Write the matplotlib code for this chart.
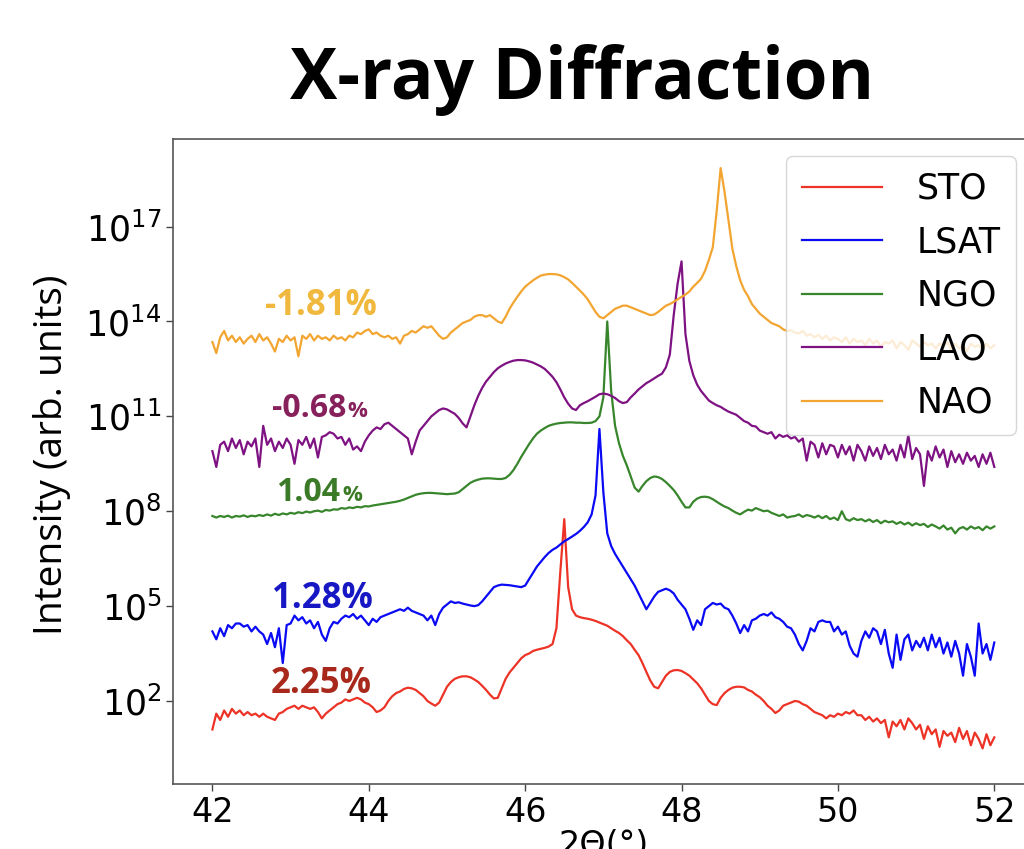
import numpy as np
import matplotlib
matplotlib.use("Agg")
import matplotlib.pyplot as plt
from matplotlib.ticker import NullLocator

# ---------------- data ----------------
two_theta = np.round(42 + 0.05 * np.arange(201), 2)   # 42.00 ... 52.00 deg

series_names = ["STO", "LSAT", "NGO", "LAO", "NAO"]

# log10(intensity), one value per 0.05 deg
sto_log = [
    1.1, 1.6, 1.4, 1.7, 1.5, 1.75, 1.6, 1.7, 1.55, 1.65, 1.55, 1.6, 1.5, 1.6, 1.5, 1.45, 1.4, 1.6, 1.65, 1.75,
    1.8, 1.85, 1.75, 1.85, 1.8, 1.75, 1.8, 1.65, 1.45, 1.6, 1.7, 1.8, 1.9, 1.95, 2.05, 2.0, 2.05, 2.1, 2.05, 1.95,
    1.9, 1.8, 1.65, 1.7, 1.8, 2.0, 2.15, 2.25, 2.3, 2.38, 2.42, 2.4, 2.35, 2.25, 2.15, 2.0, 1.92, 1.85, 1.95, 2.2,
    2.45, 2.6, 2.7, 2.75, 2.78, 2.78, 2.75, 2.68, 2.6, 2.48, 2.35, 2.2, 2.08, 2.1, 2.4, 2.7, 2.9, 3.05, 3.2, 3.35,
    3.45, 3.5, 3.58, 3.62, 3.65, 3.68, 3.72, 3.8, 4.3, 6.1, 7.75, 5.6, 4.9, 4.7, 4.65, 4.62, 4.6, 4.57, 4.53, 4.48,
    4.43, 4.38, 4.3, 4.22, 4.15, 4.05, 3.92, 3.8, 3.62, 3.45, 3.2, 2.92, 2.65, 2.45, 2.4, 2.6, 2.8, 2.92, 2.97, 2.98,
    2.95, 2.88, 2.8, 2.68, 2.56, 2.4, 2.2, 2.0, 1.9, 1.87, 2.1, 2.25, 2.35, 2.42, 2.45, 2.45, 2.43, 2.35, 2.3, 2.2,
    2.12, 2.0, 1.85, 1.75, 1.62, 1.7, 1.85, 1.9, 1.95, 2.0, 1.98, 1.9, 1.85, 1.75, 1.65, 1.6, 1.55, 1.45, 1.55, 1.5,
    1.6, 1.55, 1.65, 1.6, 1.7, 1.55, 1.55, 1.4, 1.5, 1.35, 1.45, 1.3, 1.4, 0.85, 1.35, 1.2, 1.4, 1.1, 1.45, 1.3,
    1.1, 1.25, 0.8, 1.2, 0.95, 1.1, 0.55, 1.05, 0.9, 1.0, 0.7, 1.15, 0.8, 1.05, 0.6, 1.0, 0.8, 0.5, 0.95, 0.6,
    0.85,
]

lsat_log = [
    4.2, 3.95, 4.3, 4.05, 4.4, 4.3, 4.45, 4.45, 4.35, 4.4, 4.2, 4.35, 4.2, 4.1, 3.8, 4.15, 3.7, 4.3, 3.2, 4.4,
    4.45, 4.7, 4.55, 4.65, 4.45, 4.55, 4.3, 4.5, 4.1, 3.9, 4.3, 4.5, 4.45, 4.6, 4.7, 4.65, 4.75, 4.6, 4.7, 4.55,
    4.4, 4.6, 4.5, 4.65, 4.7, 4.75, 4.8, 4.85, 4.9, 4.85, 4.95, 4.85, 4.8, 4.75, 4.7, 4.55, 4.7, 4.4, 4.75, 4.95,
    5.05, 5.15, 5.1, 5.12, 5.08, 5.05, 5.02, 5.0, 5.03, 5.15, 5.3, 5.45, 5.6, 5.65, 5.68, 5.67, 5.66, 5.64, 5.62, 5.6,
    5.65, 5.85, 6.05, 6.25, 6.4, 6.55, 6.68, 6.78, 6.85, 6.95, 7.05, 7.12, 7.2, 7.28, 7.38, 7.5, 7.65, 7.9, 8.5, 10.6,
    8.6, 7.3, 6.9, 6.65, 6.45, 6.25, 6.05, 5.85, 5.65, 5.4, 5.15, 4.9, 5.1, 5.3, 5.45, 5.5, 5.55, 5.5, 5.4, 5.2,
    5.05, 4.9, 4.6, 4.25, 4.55, 4.4, 4.9, 5.0, 5.1, 5.05, 5.08, 4.95, 4.9, 4.7, 4.45, 4.15, 4.4, 4.2, 4.55, 4.6,
    4.7, 4.75, 4.7, 4.8, 4.65, 4.6, 4.5, 4.35, 4.3, 4.1, 3.8, 3.6, 3.9, 4.3, 4.2, 4.5, 4.55, 4.5, 4.5, 4.2,
    4.35, 4.1, 4.2, 3.75, 3.5, 3.4, 3.9, 4.2, 4.0, 4.3, 4.2, 3.8, 4.25, 3.5, 3.05, 4.1, 3.3, 3.95, 4.1, 3.6,
    3.9, 3.7, 4.0, 3.6, 4.1, 3.7, 4.0, 3.5, 3.85, 3.4, 3.9, 3.5, 2.8, 3.8, 3.4, 2.8, 4.45, 3.5, 3.8, 3.3,
    3.85,
]

ngo_log = [
    7.85, 7.8, 7.85, 7.82, 7.86, 7.8, 7.85, 7.83, 7.87, 7.82, 7.86, 7.84, 7.88, 7.85, 7.9, 7.86, 7.92, 7.88, 7.93, 7.9,
    7.95, 7.92, 7.97, 7.94, 7.99, 7.96, 8.0, 8.02, 7.98, 8.04, 8.02, 8.06, 8.05, 8.1, 8.08, 8.12, 8.1, 8.14, 8.12, 8.16,
    8.15, 8.18, 8.2, 8.22, 8.24, 8.26, 8.28, 8.3, 8.33, 8.37, 8.42, 8.47, 8.52, 8.55, 8.57, 8.58, 8.58, 8.57, 8.56, 8.55,
    8.54, 8.55, 8.56, 8.6, 8.7, 8.8, 8.9, 8.96, 9.0, 9.03, 9.04, 9.04, 9.03, 9.02, 9.02, 9.05, 9.15, 9.3, 9.5, 9.72,
    9.92, 10.12, 10.3, 10.45, 10.55, 10.63, 10.7, 10.74, 10.77, 10.79, 10.8, 10.81, 10.81, 10.8, 10.8, 10.79, 10.79, 10.8, 10.85, 11.0,
    11.6, 14.0, 11.8, 10.7, 10.15, 9.75, 9.45, 9.1, 8.75, 8.62, 8.8, 8.95, 9.05, 9.1, 9.08, 9.02, 8.92, 8.8, 8.67, 8.5,
    8.3, 8.12, 8.12, 8.3, 8.4, 8.45, 8.46, 8.44, 8.38, 8.3, 8.22, 8.15, 8.1, 8.02, 7.95, 7.9, 7.98, 8.05, 8.02, 8.1,
    8.05, 8.0, 8.02, 7.95, 7.9, 7.85, 7.9, 7.8, 7.83, 7.85, 7.9, 7.82, 7.88, 7.85, 7.8, 7.86, 7.78, 7.85, 7.75, 7.8,
    7.72, 8.0, 7.75, 7.7, 7.78, 7.72, 7.75, 7.68, 7.74, 7.66, 7.72, 7.62, 7.7, 7.65, 7.68, 7.6, 7.66, 7.58, 7.64, 7.55,
    7.62, 7.56, 7.6, 7.5, 7.58, 7.52, 7.45, 7.55, 7.42, 7.48, 7.3, 7.45, 7.5, 7.42, 7.52, 7.45, 7.5, 7.4, 7.52, 7.45,
    7.52,
]

lao_log = [
    9.9, 9.4, 10.1, 10.2, 9.9, 10.3, 10.0, 10.25, 9.8, 10.2, 10.05, 10.3, 9.4, 10.7, 10.1, 10.3, 9.9, 10.2, 10.0, 10.3,
    10.1, 9.5, 10.25, 10.1, 10.35, 10.0, 10.3, 9.7, 10.35, 10.4, 10.5, 10.45, 10.3, 10.35, 10.1, 10.3, 9.95, 10.05, 9.9, 10.2,
    10.4, 10.55, 10.65, 10.6, 10.75, 10.8, 10.7, 10.6, 10.5, 10.4, 10.3, 9.8, 10.2, 10.55, 10.7, 10.85, 11.0, 11.1, 11.2, 11.25,
    11.22, 11.15, 11.08, 10.95, 10.78, 10.65, 11.0, 11.35, 11.65, 11.9, 12.1, 12.25, 12.4, 12.52, 12.6, 12.67, 12.72, 12.76, 12.78, 12.78,
    12.77, 12.74, 12.7, 12.64, 12.58, 12.5, 12.38, 12.25, 12.08, 11.85, 11.6, 11.4, 11.25, 11.2, 11.35, 11.42, 11.48, 11.55, 11.62, 11.7,
    11.72, 11.7, 11.65, 11.58, 11.48, 11.42, 11.45, 11.6, 11.72, 11.85, 11.95, 12.05, 12.12, 12.2, 12.28, 12.35, 12.55, 12.95, 14.2, 15.2,
    15.9, 13.6, 12.75, 12.3, 12.0, 11.8, 11.65, 11.5, 11.42, 11.35, 11.3, 11.22, 11.15, 11.1, 11.05, 10.95, 10.85, 10.8, 10.7, 10.68,
    10.55, 10.5, 10.45, 10.5, 10.3, 10.42, 10.35, 10.4, 10.3, 10.35, 10.2, 10.3, 9.6, 10.2, 10.1, 9.7, 10.15, 9.8, 10.1, 10.05,
    9.7, 10.1, 9.8, 10.05, 9.6, 10.1, 9.9, 9.6, 10.05, 9.75, 10.0, 9.65, 10.1, 9.8, 9.95, 9.6, 10.1, 9.7, 10.4, 9.65,
    10.0, 9.8, 8.8, 9.9, 9.6, 10.05, 9.7, 9.95, 9.4, 9.9, 9.55, 9.8, 9.5, 9.85, 9.6, 9.75, 9.4, 9.8, 9.5, 9.85,
    9.4,
]

nao_log = [
    13.35, 13.0, 13.5, 13.7, 13.4, 13.55, 13.35, 13.5, 13.3, 13.45, 13.55, 13.35, 13.6, 13.4, 13.5, 13.3, 13.05, 13.45, 13.35, 13.55,
    13.4, 13.5, 12.9, 13.55, 13.45, 13.6, 13.4, 13.55, 13.45, 13.5, 13.4, 13.55, 13.45, 13.5, 13.4, 13.55, 13.5, 13.65, 13.6, 13.7,
    13.75, 13.6, 13.65, 13.55, 13.5, 13.55, 13.45, 13.5, 13.3, 13.55, 13.6, 13.7, 13.65, 13.75, 13.85, 13.8, 13.85, 13.7, 13.55, 13.45,
    13.5, 13.65, 13.75, 13.85, 13.95, 14.0, 14.05, 14.15, 14.2, 14.2, 14.15, 14.2, 14.1, 14.0, 13.95, 14.15, 14.4, 14.6, 14.78, 14.95,
    15.1, 15.2, 15.3, 15.38, 15.45, 15.48, 15.5, 15.5, 15.49, 15.46, 15.4, 15.33, 15.22, 15.1, 14.98, 14.85, 14.7, 14.5, 14.3, 14.15,
    14.1, 14.2, 14.3, 14.4, 14.45, 14.5, 14.5, 14.45, 14.4, 14.35, 14.3, 14.25, 14.2, 14.22, 14.3, 14.4, 14.5, 14.55, 14.62, 14.7,
    14.78, 14.85, 14.95, 15.1, 15.22, 15.35, 15.6, 15.95, 16.35, 17.5, 18.85, 18.1, 17.2, 16.3, 15.75, 15.3, 15.0, 14.8, 14.55, 14.4,
    14.25, 14.15, 14.05, 13.95, 13.9, 13.85, 13.75, 13.7, 13.72, 13.65, 13.62, 13.7, 13.55, 13.6, 13.5, 13.58, 13.45, 13.55, 13.4, 13.5,
    13.45, 13.35, 13.5, 13.3, 13.45, 13.35, 13.4, 13.25, 13.45, 13.3, 13.4, 13.2, 13.35, 13.3, 13.4, 13.15, 13.35, 13.25, 13.1, 13.4,
    13.3, 13.2, 13.35, 13.25, 13.3, 13.15, 13.3, 13.2, 13.35, 13.1, 13.3, 13.15, 13.25, 13.05, 13.3, 13.2, 13.25, 13.1, 13.3, 13.15,
    13.25,
]

series_logs = [sto_log, lsat_log, ngo_log, lao_log, nao_log]
series_colors = ["#ec3326", "#0a0af5", "#38862c", "#7e1283", "#f2a531"]

# strain annotations (text, x position, log10 y baseline)
strain_text = ["2.25", "1.28", "1.04", "-0.68", "-1.81"]
strain_x = [42.74, 42.76, 42.82, 42.76, 42.67]
strain_log = [2.25, 4.94, 8.33, 10.98, 14.21]
strain_colors = ["#a8291b", "#1717c4", "#3b7a26", "#86215b", "#f0b83c"]
strain_small_pct = [False, False, True, True, False]

# ---------------- figure ----------------
W, H = 1024, 849
fig = plt.figure(figsize=(W / 100, H / 100), dpi=100)
fig.patch.set_facecolor("white")

ax_left, ax_right, ax_top, ax_bottom = 173.3, 1033.4, 139.0, 784.0
ax = fig.add_axes([ax_left / W, 1 - ax_bottom / H, (ax_right - ax_left) / W, (ax_bottom - ax_top) / H])

for name, logs, col in zip(series_names, series_logs, series_colors):
    ax.plot(two_theta, 10 ** np.array(logs), color=col, lw=1.6, label=name)

ax.set_yscale("log")
ax.set_xlim(41.5, 52.5)
ax.set_ylim(10 ** -0.625, 10 ** 19.77)
ax.set_xticks([42, 44, 46, 48, 50, 52])
ax.set_yticks([1e2, 1e5, 1e8, 1e11, 1e14, 1e17])
ax.yaxis.set_minor_locator(NullLocator())
ax.tick_params(axis="x", labelsize=24, length=5, width=1, color="#444444")
ax.tick_params(axis="y", labelsize=25, length=5, width=1, color="#444444")
for sp in ax.spines.values():
    sp.set_color("#555555")
    sp.set_linewidth(1.2)

leg = ax.legend(loc="upper right", fontsize=25, handlelength=2.3, handletextpad=1.0,
                labelspacing=0.56, borderaxespad=0.5, borderpad=0.45, framealpha=0.8)

# strain labels
for txt, x, lg, col, small in zip(strain_text, strain_x, strain_log, strain_colors, strain_small_pct):
    if small:
        t = ax.text(x, 10 ** lg, txt, color=col, fontsize=23, fontweight="bold",
                    family="Open Sans", va="baseline", ha="left")
        ax.annotate("%", xy=(1, 0), xycoords=t, xytext=(1, 2), textcoords="offset points",
                    color=col, fontsize=16, fontweight="bold", family="Open Sans",
                    va="bottom", ha="left")
    else:
        ax.text(x, 10 ** lg, txt + "%", color=col, fontsize=25, fontweight="bold",
                family="Open Sans", va="baseline", ha="left")

# title and axis labels
fig.text(582 / W, 1 - 99 / H, "X-ray Diffraction", ha="center", va="baseline",
         fontsize=51, fontweight="bold", family="Open Sans")
fig.text(52 / W, 1 - 455 / H, "Intensity (arb. units)", rotation=90, ha="center", va="center",
         fontsize=28, family="Open Sans")
fig.text(603.4 / W, 1 - 829 / H, "2Θ(°)", ha="center", va="top", fontsize=24)

fig.savefig("out.png", dpi=100)
